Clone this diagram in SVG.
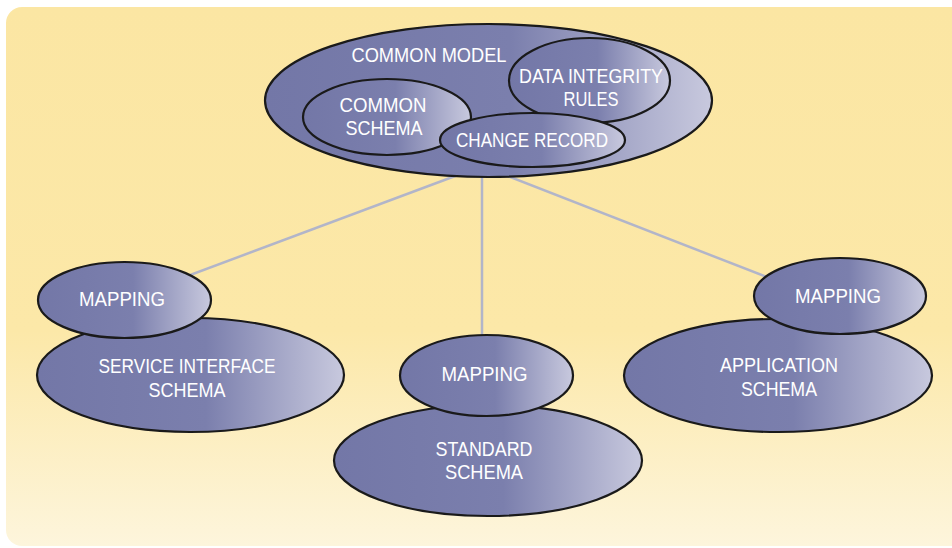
<svg xmlns="http://www.w3.org/2000/svg" width="952" height="548" viewBox="0 0 952 548">
  <defs>
    <linearGradient id="bg" x1="0" y1="0" x2="0" y2="1">
      <stop offset="0" stop-color="#FBE6A3"/>
      <stop offset="0.6" stop-color="#FCE8A8"/>
      <stop offset="1" stop-color="#FDF5DC"/>
    </linearGradient>
    <linearGradient id="blob" x1="0" y1="0" x2="1" y2="0">
      <stop offset="0" stop-color="#7377A7"/>
      <stop offset="0.55" stop-color="#7B7FAD"/>
      <stop offset="1" stop-color="#C8C9DE"/>
    </linearGradient>
    <style>
      .shape { fill: url(#blob); stroke: #1a1a1a; stroke-width: 2.2; }
      .label { font-family: "Liberation Sans", Arial, sans-serif; font-size: 21px; fill: #ffffff; text-anchor: middle; }
      .link { stroke: #B2B5C9; stroke-width: 2.5; fill: none; }
    </style>
  </defs>

  <!-- panel background -->
  <rect x="6" y="7" width="966" height="539" rx="16" ry="16" fill="url(#bg)"/>

  <!-- connectors -->
  <g id="connectors">
    <line class="link" x1="482" y1="166" x2="150" y2="290"/>
    <line class="link" x1="482" y1="166" x2="482" y2="345"/>
    <line class="link" x1="482" y1="166" x2="800" y2="290"/>
  </g>

  <!-- common model with its parts -->
  <g id="common-model">
    <ellipse class="shape" cx="488.5" cy="100.5" rx="223.5" ry="76.5"/>
    <text class="label" x="429" y="62" textLength="155" lengthAdjust="spacingAndGlyphs">COMMON MODEL</text>
  </g>
  <g id="common-schema">
    <ellipse class="shape" cx="387" cy="117" rx="84" ry="38"/>
    <text class="label" x="383" y="112" textLength="87" lengthAdjust="spacingAndGlyphs">COMMON</text>
    <text class="label" x="384" y="135" textLength="77" lengthAdjust="spacingAndGlyphs">SCHEMA</text>
  </g>
  <g id="data-integrity-rules">
    <ellipse class="shape" cx="589.5" cy="80.5" rx="80.5" ry="42.5"/>
    <text class="label" x="591" y="83" textLength="144" lengthAdjust="spacingAndGlyphs">DATA INTEGRITY</text>
    <text class="label" x="591" y="106" textLength="55" lengthAdjust="spacingAndGlyphs">RULES</text>
  </g>
  <g id="change-record">
    <ellipse class="shape" cx="532.5" cy="140" rx="92.5" ry="27"/>
    <text class="label" x="532" y="147" textLength="152" lengthAdjust="spacingAndGlyphs">CHANGE RECORD</text>
  </g>

  <!-- service interface branch -->
  <g id="service-interface-schema">
    <ellipse class="shape" cx="190.5" cy="375" rx="153.5" ry="57"/>
    <text class="label" x="187" y="373" textLength="177" lengthAdjust="spacingAndGlyphs">SERVICE INTERFACE</text>
    <text class="label" x="187" y="397" textLength="77" lengthAdjust="spacingAndGlyphs">SCHEMA</text>
  </g>
  <g id="mapping-left">
    <ellipse class="shape" cx="124.5" cy="300" rx="86.5" ry="38"/>
    <text class="label" x="122" y="306" textLength="86" lengthAdjust="spacingAndGlyphs">MAPPING</text>
  </g>

  <!-- standard branch -->
  <g id="standard-schema">
    <ellipse class="shape" cx="488" cy="460.5" rx="154" ry="55.5"/>
    <text class="label" x="484" y="456" textLength="97" lengthAdjust="spacingAndGlyphs">STANDARD</text>
    <text class="label" x="484" y="479" textLength="78" lengthAdjust="spacingAndGlyphs">SCHEMA</text>
  </g>
  <g id="mapping-middle">
    <ellipse class="shape" cx="486.5" cy="375.5" rx="86.5" ry="40.5"/>
    <text class="label" x="484.5" y="381" textLength="86" lengthAdjust="spacingAndGlyphs">MAPPING</text>
  </g>

  <!-- application branch -->
  <g id="application-schema">
    <ellipse class="shape" cx="778" cy="375.5" rx="154" ry="56.5"/>
    <text class="label" x="779" y="372" textLength="118" lengthAdjust="spacingAndGlyphs">APPLICATION</text>
    <text class="label" x="779" y="396" textLength="76" lengthAdjust="spacingAndGlyphs">SCHEMA</text>
  </g>
  <g id="mapping-right">
    <ellipse class="shape" cx="840" cy="296" rx="86" ry="38"/>
    <text class="label" x="838" y="303" textLength="86" lengthAdjust="spacingAndGlyphs">MAPPING</text>
  </g>
</svg>
